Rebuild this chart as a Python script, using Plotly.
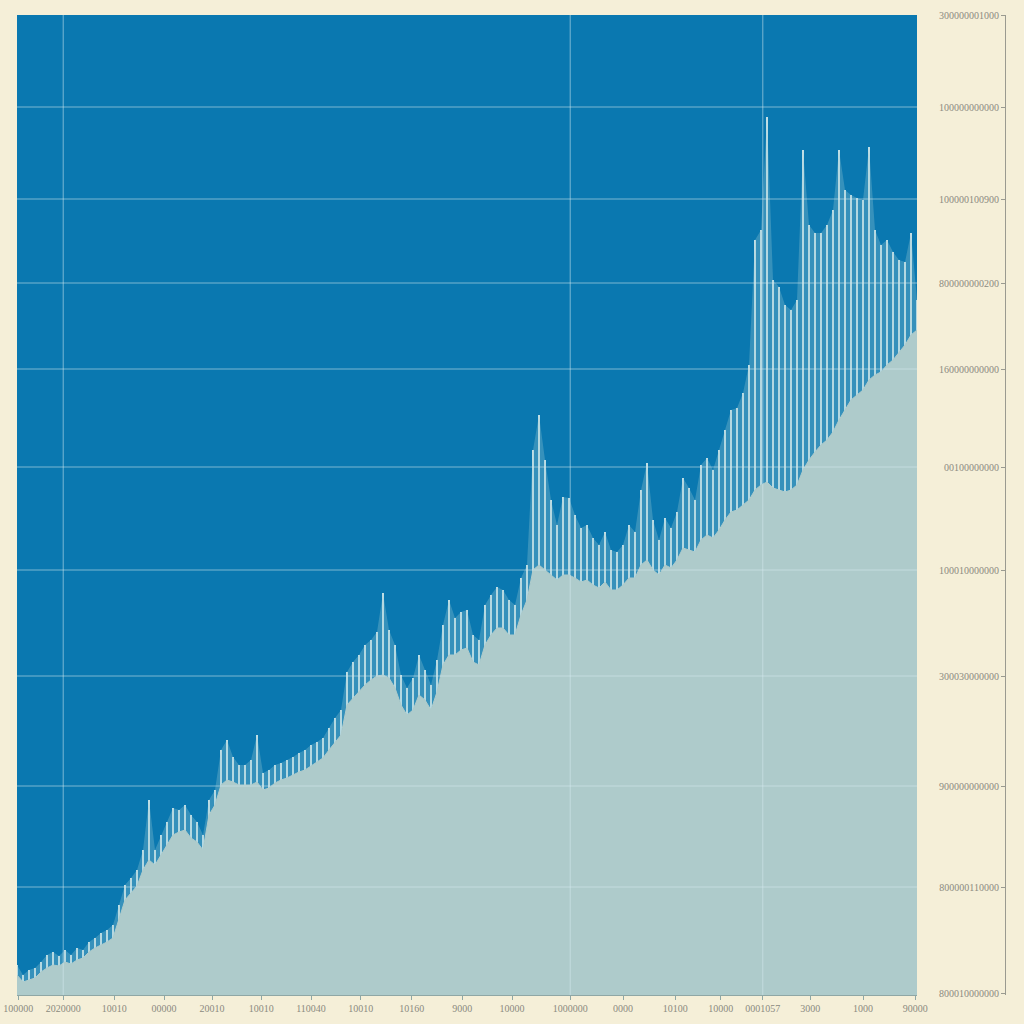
import plotly.graph_objects as go

# ---- data ----
peak = [30, 20, 25, 27, 33, 40, 43, 39, 45, 40, 47, 45, 53, 57, 62, 65, 70, 90, 110, 117,
        125, 145, 195, 145, 160, 173, 187, 185, 190, 180, 173, 160, 195, 205, 245, 255, 238, 230, 230, 235,
        260, 222, 225, 230, 232, 235, 238, 242, 245, 250, 253, 257, 267, 277, 285, 323, 333, 340, 350, 355,
        363, 402, 365, 350, 320, 307, 317, 340, 325, 310, 335, 370, 395, 377, 383, 385, 360, 355, 390, 400,
        408, 405, 395, 390, 417, 430, 545, 580, 535, 495, 470, 498, 497, 480, 467, 470, 457, 450, 463, 445,
        443, 450, 470, 463, 505, 532, 475, 455, 477, 467, 483, 517, 507, 495, 530, 537, 525, 545, 565, 585,
        587, 602, 630, 755, 765, 878, 715, 708, 690, 685, 695, 845, 770, 762, 762, 770, 785, 845, 805, 800,
        797, 795, 848, 765, 750, 755, 743, 735, 733, 762, 695]

base = [20, 13, 15, 17, 23, 27, 30, 29, 33, 31, 35, 37, 43, 47, 50, 53, 57, 75, 95, 102,
        109, 125, 135, 130, 140, 150, 160, 163, 165, 157, 153, 145, 180, 190, 210, 215, 213, 210, 210, 210,
        213, 205, 207, 212, 215, 217, 220, 223, 225, 229, 233, 237, 245, 253, 260, 290, 297, 303, 310, 315,
        319, 320, 317, 307, 290, 280, 285, 300, 295, 285, 303, 330, 340, 340, 345, 347, 333, 330, 350, 360,
        367, 367, 360, 360, 380, 395, 425, 430, 425, 420, 415, 420, 420, 417, 413, 415, 410, 407, 413, 405,
        405, 410, 417, 417, 430, 435, 425, 420, 430, 427, 435, 447, 445, 443, 455, 460, 457, 465, 475, 483,
        485, 490, 495, 505, 510, 513, 507, 505, 503, 505, 510, 525, 535, 543, 550, 555, 563, 575, 585, 595,
        600, 605, 615, 620, 623, 630, 635, 643, 650, 660, 665]

x_tick_pos = [0.2, 7.7, 16.2, 24.5, 32.5, 40.7, 49, 57.3, 65.8, 74.2, 82.5, 92.2, 101, 109.7, 117.3,
              124.3, 132.2, 141, 149.7]
x_tick_text = ["100000", "2020000", "10010", "00000", "20010", "10010", "110040", "10010", "10160",
               "9000", "10000", "1000000", "0000", "10100", "10000", "0001057", "3000", "1000", "90000"]

y_tick_pos = [980, 888, 796, 712, 626, 528, 425, 319, 209, 108, 2]
y_tick_text = ["300000001000", "100000000000", "100000100900", "800000000200", "160000000000",
               "00100000000", "100010000000", "300030000000", "900000000000", "800000110000",
               "800010000000"]

v_grid_idx = [1, 11, 15]  # x ticks that carry a vertical grid line

xs = list(range(len(peak)))

fig = go.Figure()
fig.add_trace(go.Bar(x=xs, y=peak, width=0.42,
                     marker=dict(color="rgba(205,230,234,0.95)", line=dict(width=0)),
                     showlegend=False, hoverinfo="skip"))
fig.add_trace(go.Scatter(x=xs, y=peak, mode="lines", fill="tozeroy",
                         line=dict(color="rgba(170,210,220,0.0)", width=0),
                         fillcolor="rgba(150,198,212,0.32)", showlegend=False, hoverinfo="skip"))
fig.add_trace(go.Scatter(x=xs, y=base, mode="lines", fill="tozeroy",
                         line=dict(color="#aecbcb", width=1),
                         fillcolor="#aecbcb", showlegend=False, hoverinfo="skip"))

# faint grid lines drawn above the data
for v in y_tick_pos[1:-1]:
    fig.add_shape(type="line", xref="x domain", yref="y", x0=0, x1=1, y0=v, y1=v,
                  line=dict(color="rgba(215,235,240,0.55)", width=1), layer="above")
for i in v_grid_idx:
    fig.add_shape(type="line", xref="x", yref="y domain", x0=x_tick_pos[i], x1=x_tick_pos[i],
                  y0=0, y1=1, line=dict(color="rgba(215,235,240,0.55)", width=1), layer="above")

font = dict(family="Liberation Serif, DejaVu Serif, serif", size=10, color="#8b8a80")

fig.update_layout(
    width=1024, height=1024,
    margin=dict(l=17, r=19, t=15, b=29),
    paper_bgcolor="#f5efd8",
    plot_bgcolor="#0a78b0",
    bargap=0,
    font=font,
    xaxis=dict(range=[0, len(peak) - 1], domain=[0, 900 / 988], automargin=False,
               tickvals=x_tick_pos, ticktext=x_tick_text,
               showgrid=False, zeroline=False,
               showline=True, linecolor="#8fa7a5", linewidth=1,
               ticks="outside", ticklen=4, tickcolor="#8fa7a5",
               tickfont=font),
    yaxis=dict(range=[0, 980], side="left", anchor="free", position=1.0, automargin=False,
               tickvals=y_tick_pos, ticktext=y_tick_text,
               showgrid=False, zeroline=False,
               showline=True, linecolor="#9a9a90", linewidth=1,
               ticks="outside", ticklen=4, tickcolor="#9a9a90",
               tickfont=font),
)

fig.write_html("out.html", config={"displayModeBar": False},
               post_script="document.body.style.margin='0';")
